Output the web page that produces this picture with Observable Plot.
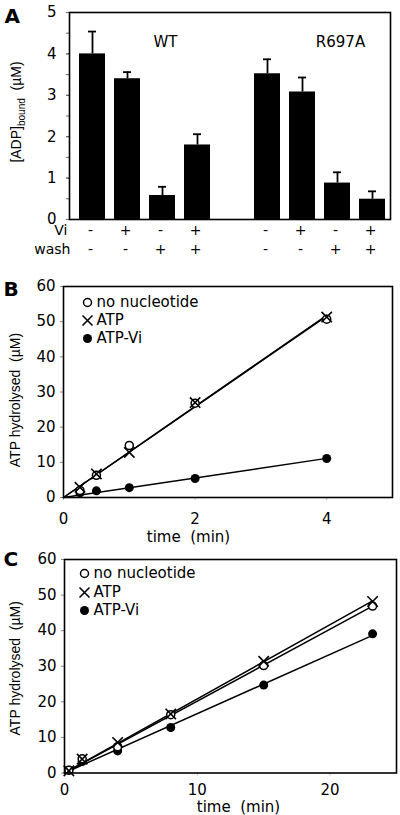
<!DOCTYPE html>
<html>
<head>
<meta charset="utf-8">
<script src="https://cdn.jsdelivr.net/npm/d3@7"></script>
<script src="https://cdn.jsdelivr.net/npm/@observablehq/plot@0.6"></script>
<style>
  html, body { margin: 0; padding: 0; background: white; }
  #root { position: relative; width: 400px; height: 815px; background: white; overflow: hidden; }
  #root > svg { position: absolute; left: 0; }
</style>
</head>
<body>
<div id="root"></div>
<script>
// ---------- Panel A data ----------
const groups = ["WT", "R697A"];
const wtValues = [4.0, 3.4, 0.58, 1.8];
const wtErrors = [0.54, 0.16, 0.21, 0.26];
const r697aValues = [3.52, 3.08, 0.88, 0.49];
const r697aErrors = [0.35, 0.35, 0.26, 0.19];
const viRow = ["-", "+", "-", "+"];
const washRow = ["-", "-", "+", "+"];
const yTicksA = [0, 1, 2, 3, 4, 5];

// ---------- Panel B data ----------
const seriesNames = ["no nucleotide", "ATP", "ATP-Vi"];
const timeB = [0.25, 0.5, 1, 2, 4];
const bNoNucleotide = [2.0, 6.3, 14.8, 26.8, 50.7];
const bATP = [2.9, 6.7, 12.8, 27.0, 51.3];
const bATPVi = [1.3, 1.9, 2.8, 5.4, 11.1];
const xTicksB = [0, 2, 4];

// ---------- Panel C data ----------
const timeC = [0.33, 1.33, 4, 8, 15, 23.2];
const cNoNucleotide = [0.8, 4.0, 7.4, 16.4, 30.2, 46.9];
const cATP = [0.6, 3.9, 8.6, 16.6, 31.4, 48.2];
const cATPVi = [0.8, 3.2, 6.2, 12.8, 24.7, 39.1];
const xTicksC = [0, 10, 20];
const yTicksBC = [0, 10, 20, 30, 40, 50, 60];

const root = document.getElementById("root");
const TXT = "DejaVu Sans";
const ROT = "Liberation Sans";
const fmt = d => String(d);

// ================= Panel A =================
const groupValues = [wtValues, r697aValues];
const groupErrors = [wtErrors, r697aErrors];
const bars = [];
groups.forEach((g, gi) => {
  groupValues[gi].forEach((v, i) => {
    bars.push({cat: `${g}-${i}`, group: g, i, value: v, err: groupErrors[gi][i], vi: viRow[i], wash: washRow[i]});
  });
});
const catDomain = [...bars.filter(d => d.group === groups[0]).map(d => d.cat), "gap", ...bars.filter(d => d.group === groups[1]).map(d => d.cat)];
const groupLabels = groups.map(g => ({label: g, cat: `${g}-2`}));

const chartA = Plot.plot({
  width: 400, height: 262,
  marginLeft: 69, marginRight: 10, marginTop: 12, marginBottom: 43,
  style: {fontFamily: TXT, fontSize: "15px", background: "white", color: "black", overflow: "visible"},
  x: {type: "band", domain: catDomain, range: [72, 392], paddingInner: 0.27, paddingOuter: 0.1, axis: null},
  y: {domain: [0, 5], axis: null},
  marks: [
    Plot.barY(bars, {x: "cat", y: "value", fill: "black"}),
    Plot.ruleX(bars, {x: "cat", y1: "value", y2: d => d.value + d.err, stroke: "black", strokeWidth: 1.8}),
    Plot.tickY(bars, {x: "cat", y: d => d.value + d.err, stroke: "black", strokeWidth: 1.8, insetLeft: 9, insetRight: 9}),
    Plot.axisY({ticks: d3.range(0, 5.01, 0.5), tickSize: 3, tickFormat: () => "", stroke: "#666", label: null}),
    Plot.axisY({ticks: yTicksA, tickSize: 3, tickPadding: 10, tickFormat: fmt, fontSize: 15, fontFamily: TXT, stroke: "#666", label: null}),
    Plot.frame({stroke: "black", strokeWidth: 1.6}),
    Plot.text(groupLabels, {x: "cat", text: "label", frameAnchor: "top", lineAnchor: "middle", dy: 30, dx: 3, fontSize: 15, fontFamily: TXT}),
    Plot.text(bars, {x: "cat", text: "vi", frameAnchor: "bottom", lineAnchor: "middle", dy: 11, dx: -2, fontSize: 14, fontFamily: TXT}),
    Plot.text(bars, {x: "cat", text: "wash", frameAnchor: "bottom", lineAnchor: "middle", dy: 30, dx: -2, fontSize: 14, fontFamily: TXT}),
    Plot.text(["Vi"], {frameAnchor: "bottom-left", lineAnchor: "middle", dx: -2, dy: 11, textAnchor: "end", fontSize: 14, fontFamily: TXT}),
    Plot.text(["wash"], {frameAnchor: "bottom-left", lineAnchor: "middle", dx: 1, dy: 30, textAnchor: "end", fontSize: 14, fontFamily: TXT}),
    Plot.text(["A"], {frameAnchor: "top-left", dx: -65, dy: 10, textAnchor: "start", lineAnchor: "bottom", fontSize: 20, fontWeight: "bold", fontFamily: TXT})
  ]
});
chartA.style.top = "0px";
root.appendChild(chartA);
// y label with subscript
const yl = d3.select(chartA).append("text")
  .attr("transform", "translate(21,112) rotate(-90)")
  .attr("text-anchor", "middle")
  .attr("font-family", ROT)
  .attr("font-size", 14)
  .attr("fill", "black");
yl.append("tspan").text("[ADP]");
yl.append("tspan").attr("font-size", 10).attr("dy", 4).text("bound");
yl.append("tspan").attr("font-size", 14).attr("dy", -4).text("\u00a0\u00a0(µM)");

// ================= Panels B & C =================
function makeRows(times, arrays) {
  const rows = [];
  arrays.forEach((arr, si) => arr.forEach((v, i) => rows.push({t: times[i], v, s: seriesNames[si]})));
  return rows;
}
function fitLines(rows) {
  // least-squares line through the origin for each series
  return seriesNames.flatMap(s => {
    const r = rows.filter(d => d.s === s);
    const slope = d3.sum(r, d => d.t * d.v) / d3.sum(r, d => d.t * d.t);
    const tMax = d3.max(r, d => d.t);
    return [{t: 0, v: 0, s}, {t: tMax, v: slope * tMax, s}];
  });
}
function timePanel(cfg) {
  const rows = makeRows(cfg.times, cfg.arrays);
  const fits = fitLines(rows);
  const legendMarks = seriesNames.flatMap((name, i) => {
    const dy = cfg.legendDy[i];
    const common = {frameAnchor: "top-left", dx: cfg.legendMarkerDx, dy};
    const marker = i === 0
      ? Plot.dot([name], {...common, r: 4, fill: "white", stroke: "black", strokeWidth: 1.5})
      : i === 1
        ? Plot.dot([name], {...common, symbol: "times", r: 4.6, stroke: "black", strokeWidth: 1.6})
        : Plot.dot([name], {...common, r: 4.5, fill: "black"});
    return [marker, Plot.text([name], {frameAnchor: "top-left", dx: cfg.legendTextDx, dy, textAnchor: "start", lineAnchor: "middle", fontSize: 15, fontFamily: TXT})];
  });
  return Plot.plot({
    width: 400, height: cfg.height,
    marginLeft: cfg.ml, marginRight: cfg.mr, marginTop: cfg.mt, marginBottom: cfg.mb,
    style: {fontFamily: TXT, fontSize: "15px", background: "white", color: "black", overflow: "visible"},
    x: {domain: cfg.xDomain, axis: null},
    y: {domain: [0, 60], axis: null},
    marks: [
      Plot.axisY({ticks: yTicksBC, tickSize: 3, tickPadding: 5, tickFormat: fmt, fontSize: 15, fontFamily: TXT, stroke: "#888", label: null}),
      Plot.axisX({ticks: cfg.xTicks, tickSize: 3, tickPadding: cfg.xTickPad, tickFormat: fmt, fontSize: 15, fontFamily: TXT, stroke: "#bbb", label: null}),
      Plot.line(fits, {x: "t", y: "v", z: "s", stroke: "black", strokeWidth: 1.5}),
      Plot.dot(rows.filter(d => d.s === seriesNames[2]), {x: "t", y: "v", r: 4.5, fill: "black"}),
      Plot.dot(rows.filter(d => d.s === seriesNames[0]), {x: "t", y: "v", r: 4, fill: "white", stroke: "black", strokeWidth: 1.5}),
      Plot.dot(rows.filter(d => d.s === seriesNames[1]), {x: "t", y: "v", symbol: "times", r: 4.8, stroke: "black", strokeWidth: 1.6}),
      Plot.frame({stroke: "black", strokeWidth: 1.6}),
      ...legendMarks,
      Plot.text(["time\u00a0 (min)"], {frameAnchor: "bottom-left", textAnchor: "middle", lineAnchor: "middle", dx: cfg.xLabelDx, dy: cfg.xLabelDy, fontSize: 15, fontFamily: TXT}),
      Plot.text(["ATP hydrolysed\u00a0 (µM)"], {frameAnchor: "left", rotate: -90, textAnchor: "middle", dx: cfg.yLabelDx, dy: cfg.yLabelDy, lineAnchor: "bottom", fontSize: 14, fontFamily: ROT}),
      Plot.text([cfg.letter], {frameAnchor: "top-left", dx: -cfg.ml + 3, dy: cfg.letterDy, textAnchor: "start", lineAnchor: "bottom", fontSize: 20, fontWeight: "bold", fontFamily: TXT})
    ]
  });
}

const chartB = timePanel({
  letter: "B", height: 275, ml: 63, mr: 8, mt: 16, mb: 48,
  times: timeB, arrays: [bNoNucleotide, bATP, bATPVi],
  xDomain: [0, 5], xTicks: xTicksB, xTickPad: 13,
  legendDy: [16, 34, 52], legendMarkerDx: 24, legendTextDx: 33,
  xLabelDx: 125, xLabelDy: 40, yLabelDx: -44, yLabelDy: 8, letterDy: 9
});
chartB.style.top = "270px";
root.appendChild(chartB);

const chartC = timePanel({
  letter: "C", height: 270, ml: 64, mr: 4, mt: 14, mb: 42.5,
  times: timeC, arrays: [cNoNucleotide, cATP, cATPVi],
  xDomain: [0, 25], xTicks: xTicksC, xTickPad: 8,
  legendDy: [14, 33, 51], legendMarkerDx: 20, legendTextDx: 29,
  xLabelDx: 174, xLabelDy: 34.5, yLabelDx: -45, yLabelDy: 2, letterDy: 6
});
chartC.style.top = "545px";
root.appendChild(chartC);
</script>
</body>
</html>
